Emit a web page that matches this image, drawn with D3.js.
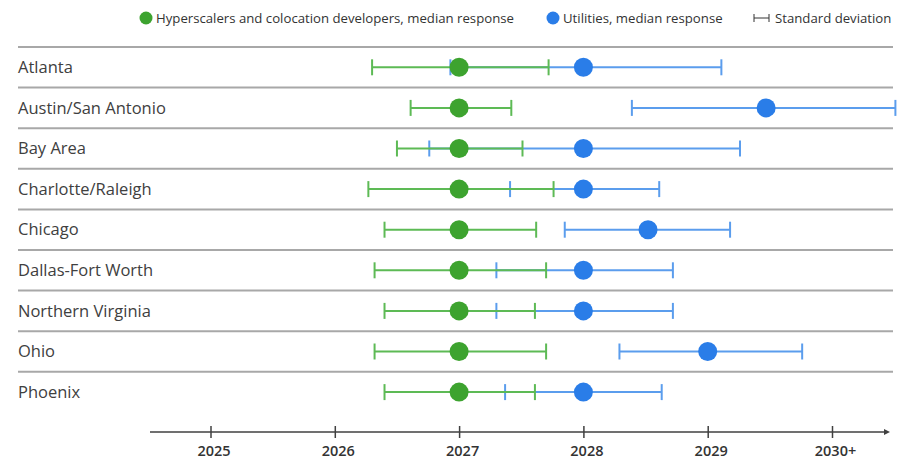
<!DOCTYPE html>
<html>
<head>
<meta charset="utf-8">
<script src="https://cdn.jsdelivr.net/npm/d3@7"></script>
<style>
  body { margin: 0; background: #fff; }
  svg { display: block; font-family: "Open Sans", sans-serif; }
</style>
</head>
<body>
<script>
var cities = ["Atlanta", "Austin/San Antonio", "Bay Area", "Charlotte/Raleigh", "Chicago",
              "Dallas-Fort Worth", "Northern Virginia", "Ohio", "Phoenix"];

// hyperscalers and colocation developers
var hyperMedian = [2027, 2027, 2027, 2027, 2027, 2027, 2027, 2027, 2027];
var hyperLow    = [2026.30, 2026.61, 2026.50, 2026.27, 2026.40, 2026.32, 2026.40, 2026.32, 2026.40];
var hyperHigh   = [2027.72, 2027.42, 2027.51, 2027.76, 2027.62, 2027.70, 2027.61, 2027.70, 2027.61];

// utilities
var utilMedian = [2028, 2029.47, 2028, 2028, 2028.52, 2028, 2028, 2029, 2028];
var utilLow    = [2026.93, 2028.39, 2026.76, 2027.41, 2027.85, 2027.30, 2027.30, 2028.29, 2027.37];
var utilHigh   = [2029.11, 2030.51, 2029.26, 2028.61, 2029.18, 2028.72, 2028.72, 2029.76, 2028.63];

var years = [2025, 2026, 2027, 2028, 2029, 2030];

var width = 897, height = 462;
var greenDot = "#3da32f", greenLine = "#5dba55";
var blueDot = "#2a7de8", blueLine = "#5b9ded";

var svg = d3.select("body").append("svg")
    .attr("width", width)
    .attr("height", height);

var x = d3.scaleLinear().domain([2025, 2030]).range([210.5, 832]);
var y = d3.scaleBand().domain(cities).range([47, 412.4]);

// row separators
svg.selectAll("line.sep")
  .data(cities)
  .enter().append("line")
  .attr("class", "sep")
  .attr("x1", 18).attr("x2", 893)
  .attr("y1", function(d) { return y(d); })
  .attr("y2", function(d) { return y(d); })
  .attr("stroke", "#a8a8a8")
  .attr("stroke-width", 2);

// city labels
svg.selectAll("text.city")
  .data(cities)
  .enter().append("text")
  .attr("class", "city")
  .attr("x", 18)
  .attr("y", function(d) { return y(d) + y.bandwidth() / 2; })
  .attr("dy", "0.35em")
  .attr("font-size", 16.5)
  .attr("fill", "#404040")
  .text(function(d) { return d; });

function errorBars(lo, hi, color, cls) {
  var g = svg.selectAll("g." + cls)
    .data(cities)
    .enter().append("g")
    .attr("class", cls)
    .attr("transform", function(d) { return "translate(0," + (y(d) + y.bandwidth() / 2) + ")"; });
  g.append("line")
    .attr("x1", function(d, i) { return x(lo[i]); })
    .attr("x2", function(d, i) { return x(hi[i]); })
    .attr("stroke", color).attr("stroke-width", 2);
  g.append("line")
    .attr("x1", function(d, i) { return x(lo[i]); })
    .attr("x2", function(d, i) { return x(lo[i]); })
    .attr("y1", -8).attr("y2", 8)
    .attr("stroke", color).attr("stroke-width", 2);
  g.append("line")
    .attr("x1", function(d, i) { return x(hi[i]); })
    .attr("x2", function(d, i) { return x(hi[i]); })
    .attr("y1", -8).attr("y2", 8)
    .attr("stroke", color).attr("stroke-width", 2);
}

errorBars(utilLow, utilHigh, blueLine, "uerr");
errorBars(hyperLow, hyperHigh, greenLine, "herr");

function dots(vals, color) {
  svg.append("g").selectAll("circle")
    .data(cities)
    .enter().append("circle")
    .attr("cx", function(d, i) { return x(vals[i]); })
    .attr("cy", function(d) { return y(d) + y.bandwidth() / 2; })
    .attr("r", 9.5)
    .attr("fill", color);
}
dots(utilMedian, blueDot);
dots(hyperMedian, greenDot);

// x axis
var axisY = 432;
svg.append("defs").append("marker")
  .attr("id", "arrow")
  .attr("viewBox", "0 0 10 10")
  .attr("refX", 0).attr("refY", 5)
  .attr("markerWidth", 4).attr("markerHeight", 4)
  .attr("orient", "auto")
  .append("path")
  .attr("d", "M0,0L10,5L0,10Z")
  .attr("fill", "#404040");

svg.append("line")
  .attr("x1", 150).attr("x2", 884)
  .attr("y1", axisY).attr("y2", axisY)
  .attr("stroke", "#404040").attr("stroke-width", 1.5)
  .attr("marker-end", "url(#arrow)");

var xAxis = d3.axisBottom(x)
  .tickValues(years)
  .tickSize(6)
  .tickPadding(8)
  .tickFormat(function(d) { return d === 2030 ? "2030+" : d; });

var axisG = svg.append("g")
  .attr("transform", "translate(0," + axisY + ")")
  .call(xAxis);
axisG.select(".domain").remove();
axisG.selectAll(".tick line").attr("y1", -6).attr("y2", 6).attr("stroke", "#404040").attr("stroke-width", 1.5);
axisG.selectAll(".tick text")
  .attr("font-family", "'Open Sans', sans-serif")
  .attr("font-size", 14.5)
  .attr("font-weight", 600)
  .attr("fill", "#333")
  .attr("dx", 3);

// legend
var ly = 18;
var legend = svg.append("g").attr("font-size", 13.2).attr("fill", "#333");
legend.append("circle").attr("cx", 146).attr("cy", ly).attr("r", 6.5).attr("fill", greenDot);
legend.append("text").attr("x", 156).attr("y", ly).attr("dy", "0.35em")
  .text("Hyperscalers and colocation developers, median response");
legend.append("circle").attr("cx", 553).attr("cy", ly).attr("r", 6.5).attr("fill", blueDot);
legend.append("text").attr("x", 563).attr("y", ly).attr("dy", "0.35em")
  .text("Utilities, median response");
legend.append("line").attr("x1", 754).attr("x2", 769).attr("y1", ly).attr("y2", ly).attr("stroke", "#333");
legend.append("line").attr("x1", 754).attr("x2", 754).attr("y1", ly - 4).attr("y2", ly + 4).attr("stroke", "#333");
legend.append("line").attr("x1", 769).attr("x2", 769).attr("y1", ly - 4).attr("y2", ly + 4).attr("stroke", "#333");
legend.append("text").attr("x", 775).attr("y", ly).attr("dy", "0.35em")
  .text("Standard deviation");
</script>
</body>
</html>
